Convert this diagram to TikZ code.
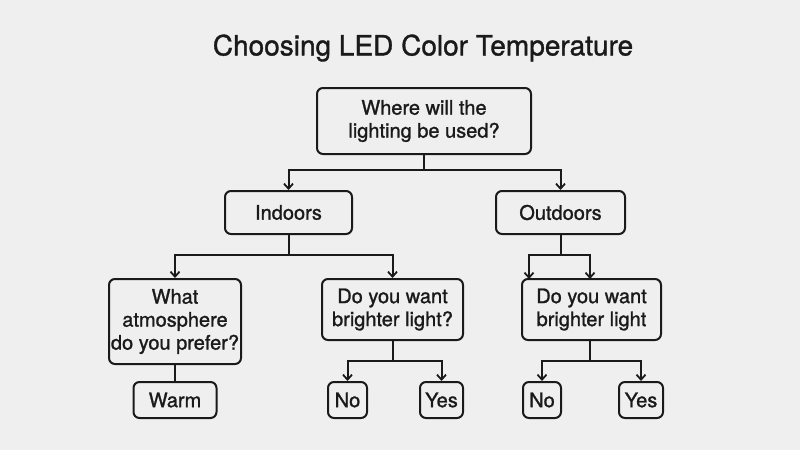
\documentclass[tikz,border=0pt]{standalone}
\usepackage{fontspec}
\setmainfont{TeX Gyre Heros}
\newfontfamily\medfont{TeX Gyre Heros}[FakeBold=1.2]
\usetikzlibrary{arrows.meta}
\definecolor{bg}{HTML}{EFEFEF}
\definecolor{ink}{HTML}{1A1A1A}
\begin{document}
\begin{tikzpicture}[x=1pt,y=-1pt,
  box/.style={draw=ink,line width=2pt,rounded corners=6pt,fill=bg,align=center,
    font=\medfont\fontsize{20}{23}\selectfont,text=ink,inner sep=0pt},
  conn/.style={draw=ink,line width=2pt},
  arr/.style={conn,-{Straight Barb[length=5pt,width=9pt,line width=1.8pt]}}]
\fill[bg] (0,0) rectangle (800,450);
\useasboundingbox (0,0) rectangle (800,450);
\node[font=\medfont\fontsize{28}{32}\selectfont,text=ink] (title) at (423,48) {Choosing LED Color Temperature};
\node[box,minimum width=214pt,minimum height=66pt] (root) at (424,121) {Where will the\\lighting be used?};
\node[box,minimum width=127pt,minimum height=43pt] (in) at (288.5,212.5) {Indoors};
\node[box,minimum width=129pt,minimum height=43pt] (out) at (560.5,212.5) {Outdoors};
\node[box,minimum width=132pt,minimum height=85pt] (atm) at (175,321.5) {What\\atmosphere\\do you prefer?};
\node[box,minimum width=141pt,minimum height=61pt] (bri) at (392.5,309.5) {Do you want\\brighter light?};
\node[box,minimum width=139pt,minimum height=61pt] (bro) at (591.5,309.5) {Do you want\\brighter light};
\node[box,minimum width=83pt,minimum height=36pt] (warm) at (175,400) {Warm};
\node[box,minimum width=39pt,minimum height=36pt] (no1) at (347.5,400) {No};
\node[box,minimum width=43pt,minimum height=36pt] (yes1) at (441.5,400) {Yes};
\node[box,minimum width=38pt,minimum height=36pt] (no2) at (542,400) {No};
\node[box,minimum width=44pt,minimum height=36pt] (yes2) at (641,400) {Yes};
\coordinate (j0) at (424,170);
\coordinate (j1) at (288.5,255);
\coordinate (j2) at (560.5,255);
\coordinate (oa) at (529,279);
\coordinate (ob) at (590,279);
\coordinate (j3) at (392.5,361);
\coordinate (j4) at (590,361);
\draw[conn] (root.south) -- (j0);
\draw[arr] (j0) -| (in.north);
\draw[arr] (j0) -| (out.north);
\draw[conn] (in.south) -- (j1);
\draw[arr] (j1) -| (atm.north);
\draw[arr] (j1) -| (bri.north);
\draw[conn] (out.south) -- (j2);
\draw[arr] (j2) -| (oa);
\draw[arr] (j2) -| (ob);
\draw[conn] (atm.south) -- (warm.north);
\draw[conn] (bri.south) -- (j3);
\draw[arr] (j3) -| (no1.north);
\draw[arr] (j3) -| (yes1.north);
\draw[conn] (bro.south -| j4) -- (j4);
\draw[arr] (j4) -| (no2.north);
\draw[arr] (j4) -| (yes2.north);
\end{tikzpicture}
\end{document}
